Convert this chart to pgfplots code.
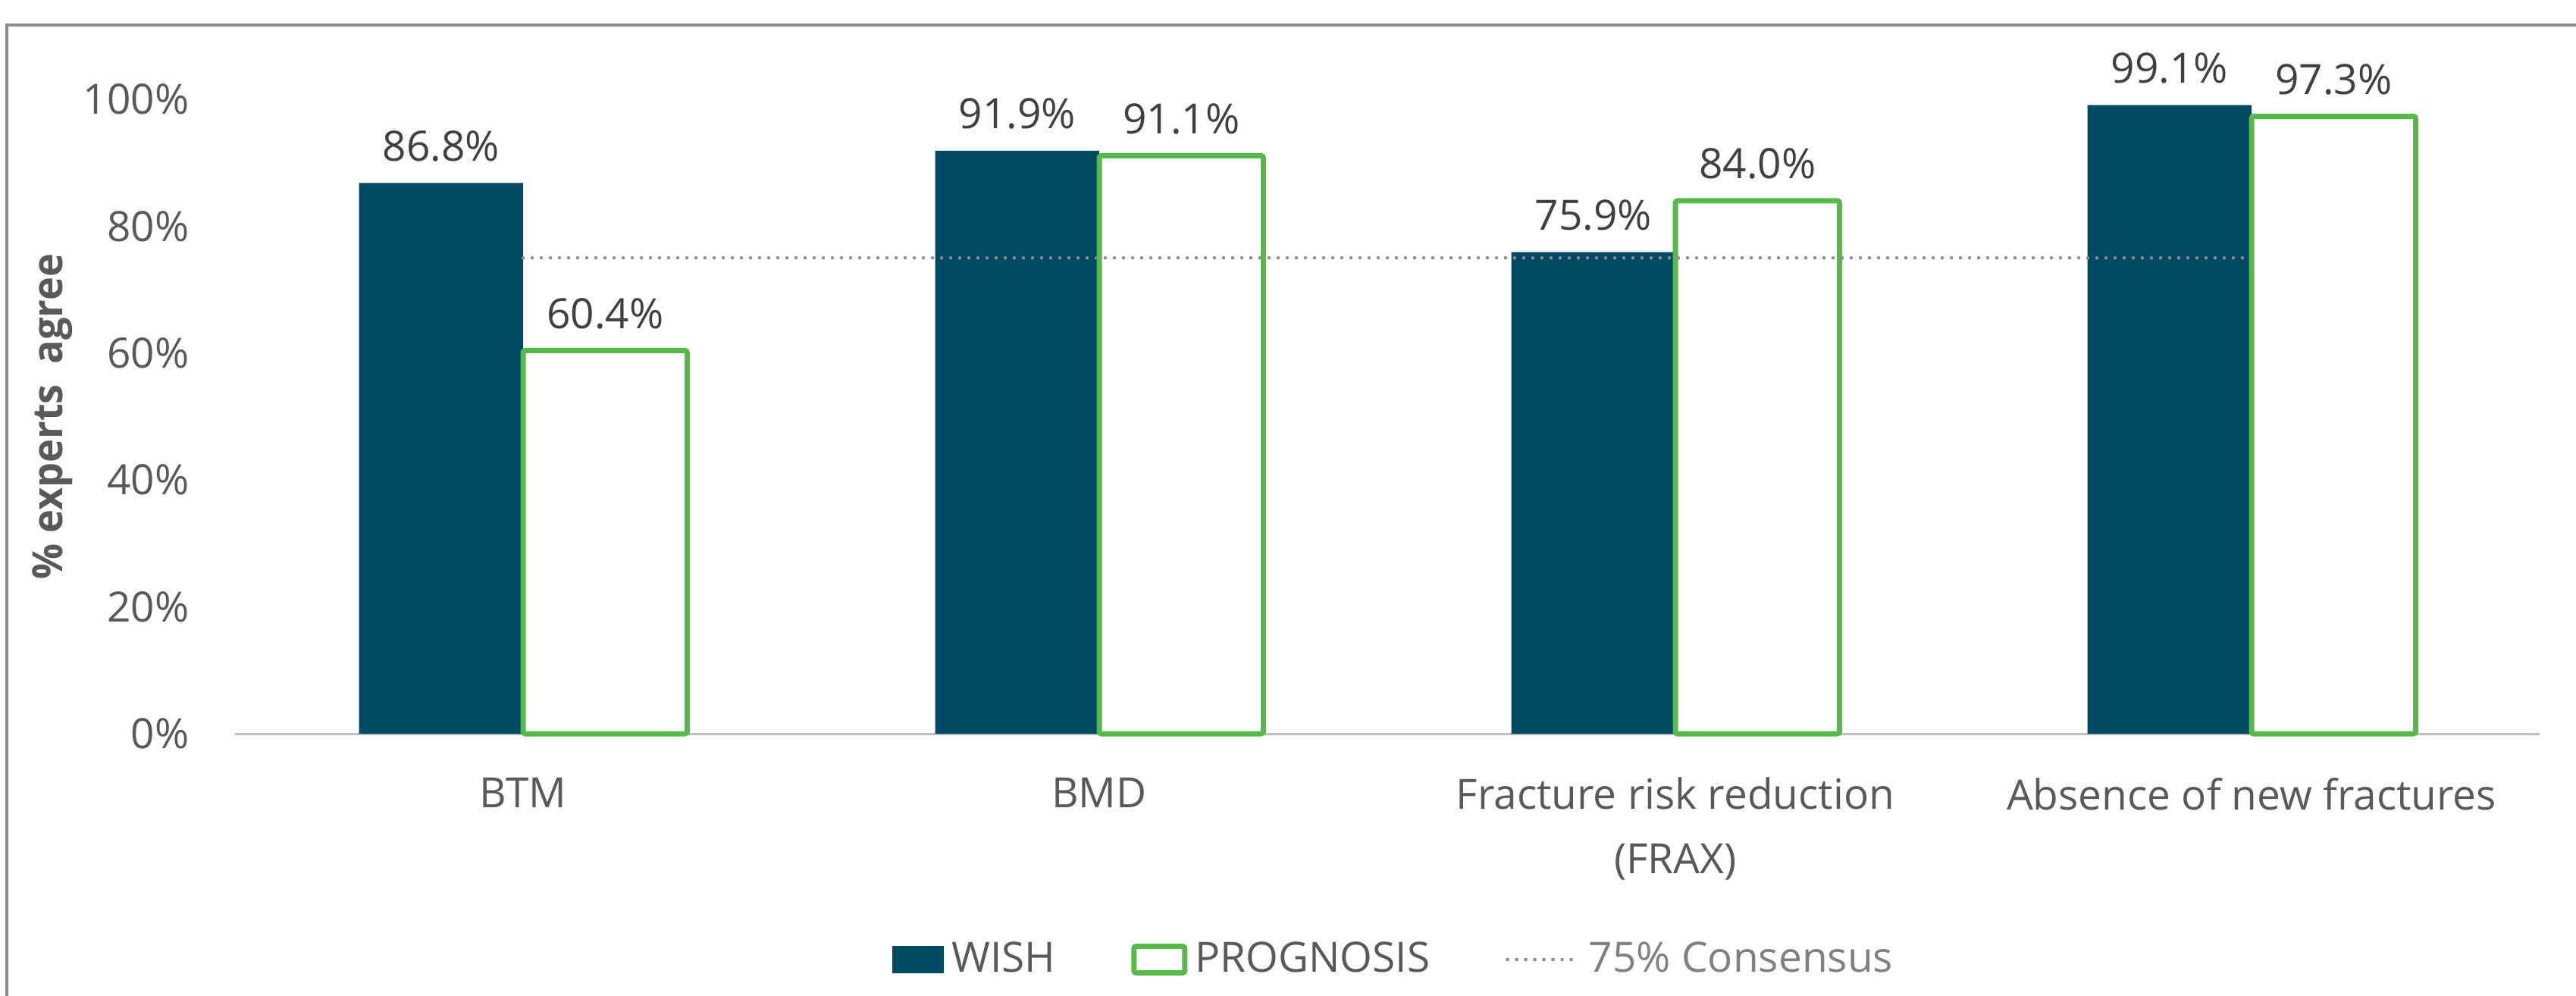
\documentclass[border=0pt]{standalone}
\usepackage{fontspec}
\setmainfont{Open Sans}
\newfontfamily\ylabfont{Open Sans}[FakeStretch=0.95]
\usepackage{pgfplots}
\pgfplotsset{compat=1.18}
\definecolor{navy}{RGB}{0,75,99}
\definecolor{pgreen}{RGB}{86,185,74}
\definecolor{tickgray}{RGB}{89,89,89}
\definecolor{valgray}{RGB}{64,64,64}
\definecolor{dotgray}{RGB}{140,140,140}
\definecolor{consgray}{RGB}{128,128,128}
\definecolor{axisgray}{RGB}{191,191,191}
\definecolor{framegray}{RGB}{140,140,140}
\begin{document}
\begin{tikzpicture}[x=1pt,y=1pt]
\useasboundingbox (0,0) rectangle (679.6,262.6);
\draw[framegray, line width=0.66pt] (1.8,-5) -- (1.8,256) -- (690,256);
\begin{axis}[
  at={(62pt,69pt)}, anchor=south west,
  scale only axis, width=608pt, height=167.4pt,
  xmin=-0.5, xmax=3.5, ymin=0, ymax=100,
  clip=false,
  separate axis lines,
  axis x line*=bottom, axis y line*=left,
  y axis line style={draw=none},
  x axis line style={draw=axisgray, line width=0.6pt, -},
  major tick length=0pt,
  /pgf/number format/assume math mode=true,
  ytick={0,20,40,60,80,100},
  yticklabel={\pgfmathprintnumber{\tick}\%},
  yticklabel style={font=\fontsize{11}{13}\selectfont, text=tickgray, xshift=-8.6pt},
  xtick={0,1,2,3},
  xticklabels={BTM, BMD, {Fracture risk reduction\\(FRAX)}, Absence of new fractures},
  xticklabel style={font=\fontsize{11}{17}\selectfont, text=tickgray, align=center, anchor=north, yshift=-8.1pt},
  ylabel={\ylabfont\bfseries\% experts\ \ agree},
  every axis y label/.style={at={(axis description cs:-0.0793,0.5)}, rotate=90, anchor=center, font=\fontsize{11}{13}\selectfont, text=tickgray},
  legend style={at={(axis description cs:0.504,-0.356)}, anchor=center, draw=none, fill=none,
    font=\fontsize{11}{13}\selectfont, text=tickgray,
    /tikz/every even column/.append style={column sep=18pt}},
  legend columns=3,
]
\addplot[ybar, bar width=43.3pt, bar shift=-21.65pt, fill=navy, draw=none,
  nodes near coords={\pgfmathprintnumber[fixed,fixed zerofill,precision=1]{\pgfplotspointmeta}\%},
  every node near coord/.append style={anchor=base, xshift=-21.65pt, yshift=5.8pt, font=\fontsize{11}{13}\selectfont, text=valgray},
  legend image code/.code={\fill[navy] (0pt,-3.6pt) rectangle (13.6pt,3.6pt);}]
  coordinates {(0,86.8) (1,91.9) (2,75.9) (3,99.1)};
\addlegendentry{WISH}
\addplot[ybar, bar width=43.3pt, bar shift=21.65pt, fill=white, draw=pgreen, line width=1.4pt, rounded corners=0.6pt,
  nodes near coords={\pgfmathprintnumber[fixed,fixed zerofill,precision=1]{\pgfplotspointmeta}\%},
  every node near coord/.append style={anchor=base, xshift=21.65pt, yshift=5.8pt, font=\fontsize{11}{13}\selectfont, text=valgray},
  legend image code/.code={\draw[pgreen, line width=1.4pt, fill=white, rounded corners=0.6pt] (0.7pt,-3.5pt) rectangle (14.1pt,3.5pt);}]
  coordinates {(0,60.4) (1,91.1) (2,84.0) (3,97.3)};
\addlegendentry{PROGNOSIS}
\addplot[dotgray, line width=0.9pt, dash pattern=on 0pt off 2.4pt, line cap=round,
  legend image code/.code={\draw[dotgray, line width=0.9pt, dash pattern=on 0pt off 2.4pt, line cap=round] (0pt,0pt) -- (13.4pt,0pt); \path (0pt,0pt) -- (19pt,0pt);}]
  coordinates {(0,75) (3,75)};
\addlegendentry{\textcolor{consgray}{75\% Consensus}}
\end{axis}
\end{tikzpicture}
\end{document}
